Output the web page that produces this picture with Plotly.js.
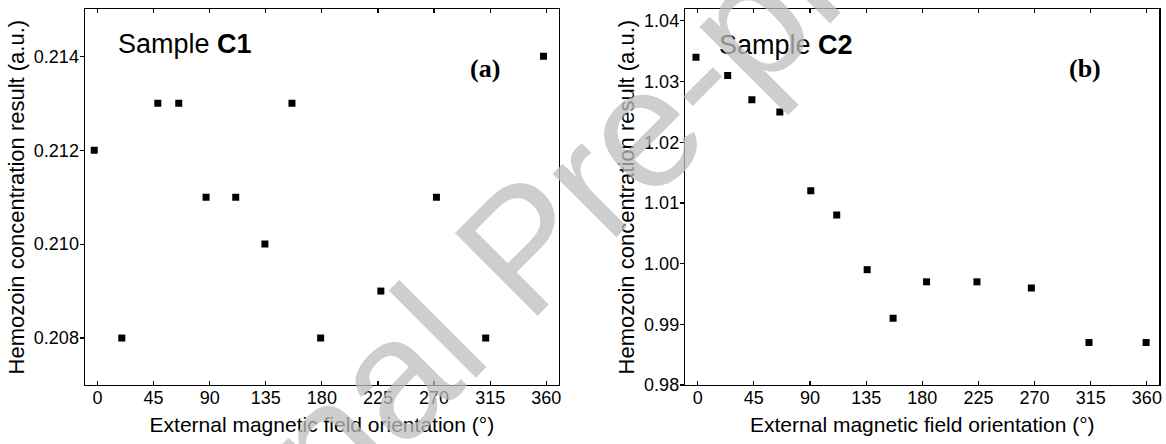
<!DOCTYPE html>
<html>
<head>
<meta charset="utf-8">
<script src="https://cdn.plot.ly/plotly-3.0.1.min.js"></script>
<style>
  html, body { margin: 0; padding: 0; background: #ffffff; }
  #chart { width: 1166px; height: 444px; }
</style>
</head>
<body>
<div id="chart"></div>
<script>
// Sample C1 (panel a)
const angleC1 = [-2.6, 19.5, 48.4, 65.2, 87.1, 110.9, 134.3, 156, 179, 227.3, 271.9, 311.4, 357.8];
const hemoC1  = [0.212, 0.208, 0.213, 0.213, 0.211, 0.211, 0.210, 0.213, 0.208, 0.209, 0.211, 0.208, 0.214];
// Sample C2 (panel b)
const angleC2 = [-1.4, 24, 43.4, 65.8, 90.6, 111.4, 135.8, 156.6, 183.4, 223.8, 267.4, 313.6, 359.4];
const hemoC2  = [1.034, 1.031, 1.027, 1.025, 1.012, 1.008, 0.999, 0.991, 0.997, 0.997, 0.996, 0.987, 0.987];

const xTicks = [0, 45, 90, 135, 180, 225, 270, 315, 360];
const yTicksC1 = [0.208, 0.210, 0.212, 0.214];
const yTicksC2 = [0.98, 0.99, 1.00, 1.01, 1.02, 1.03, 1.04];

const xTitle = 'External magnetic field orientation (°)';
const yTitle = 'Hemozoin concentration result (a.u.)';

const FONT = 'Liberation Sans, Arial, sans-serif';
const SERIF = 'Liberation Serif, Times New Roman, serif';

const marker = { symbol: 'square', size: 7, color: '#000000' };

const traces = [
  { x: angleC1, y: hemoC1, type: 'scatter', mode: 'markers', marker: marker, xaxis: 'x', yaxis: 'y', name: 'C1', showlegend: false },
  { x: angleC2, y: hemoC2, type: 'scatter', mode: 'markers', marker: marker, xaxis: 'x2', yaxis: 'y2', name: 'C2', showlegend: false }
];

const yDom = [0.1329, 0.979];
const rangeC1 = [0.207, 0.215];
const rangeC2 = [0.98, 1.0419];

function xAxis(domain, anchor) {
  return {
    domain: domain, anchor: anchor, range: [-10, 370],
    tickmode: 'array', tickvals: xTicks, ticktext: xTicks.map(String),
    ticks: 'inside', ticklen: 4, tickwidth: 1.2, tickcolor: '#000',
    showline: true, linewidth: 1.5, linecolor: '#000', mirror: 'allticks',
    showgrid: false, zeroline: false,
    tickfont: { family: FONT, size: 18, color: '#000' },
    ticklabelstandoff: -4,
    title: { text: xTitle, font: { family: FONT, size: 21, color: '#000' }, standoff: 10 },
    fixedrange: true
  };
}
function yAxis(domain, anchor, range, vals, fmt) {
  return {
    domain: domain, anchor: anchor, range: range,
    tickmode: 'array', tickvals: vals, ticktext: vals.map(v => v.toFixed(fmt)),
    ticks: 'outside', ticklen: 4, tickwidth: 1.2, tickcolor: '#000',
    showline: true, linewidth: 1.5, linecolor: '#000', mirror: true,
    showgrid: false, zeroline: false,
    tickfont: { family: FONT, size: 18, color: '#000' },
    ticklabelstandoff: -3,
    title: { text: yTitle, font: { family: FONT, size: 22, color: '#000' }, standoff: 3 },
    fixedrange: true
  };
}
// right-hand inward ticks (no labels)
function yRight(anchor, overlay, range, vals) {
  return {
    overlaying: overlay, anchor: anchor, side: 'right', range: range,
    tickmode: 'array', tickvals: vals,
    ticks: 'inside', ticklen: 4, tickwidth: 1.2, tickcolor: '#000',
    showticklabels: false, showline: false, showgrid: false, zeroline: false,
    fixedrange: true
  };
}

const layout = {
  width: 1166, height: 444,
  margin: { l: 0, r: 0, t: 0, b: 0 },
  paper_bgcolor: '#ffffff', plot_bgcolor: '#ffffff',
  showlegend: false,
  xaxis: xAxis([0.0729, 0.4792], 'y'),
  yaxis: yAxis(yDom, 'x', rangeC1, yTicksC1, 3),
  xaxis2: xAxis([0.5877, 0.9943], 'y2'),
  yaxis2: yAxis(yDom, 'x2', rangeC2, yTicksC2, 2),
  yaxis3: yRight('x', 'y', rangeC1, yTicksC1),
  yaxis4: yRight('x2', 'y2', rangeC2, yTicksC2),
  annotations: [
    { text: 'Sample <b>C1</b>', xref: 'paper', yref: 'paper', x: 0.1587, y: 0.9009, xanchor: 'center', yanchor: 'middle', showarrow: false, font: { family: FONT, size: 27, color: '#000' } },
    { text: '<b>(a)</b>', xref: 'paper', yref: 'paper', x: 0.416, y: 0.8468, xanchor: 'center', yanchor: 'middle', showarrow: false, font: { family: SERIF, size: 26, color: '#000' } },
    { text: 'Sample <b>C2</b>', xref: 'paper', yref: 'paper', x: 0.6745, y: 0.8986, xanchor: 'center', yanchor: 'middle', showarrow: false, font: { family: FONT, size: 27, color: '#000' } },
    { text: '<b>(b)</b>', xref: 'paper', yref: 'paper', x: 0.9303, y: 0.8468, xanchor: 'center', yanchor: 'middle', showarrow: false, font: { family: SERIF, size: 26, color: '#000' } },
    { text: 'Journal Pre-proof', xref: 'paper', yref: 'paper', x: 0.4485, y: 0.4437, xanchor: 'center', yanchor: 'middle', showarrow: false, textangle: -45, font: { family: FONT, size: 170, color: 'rgba(190,190,190,0.75)' } }
  ]
};

Plotly.newPlot('chart', traces, layout, { displayModeBar: false, staticPlot: true });
</script>
</body>
</html>
